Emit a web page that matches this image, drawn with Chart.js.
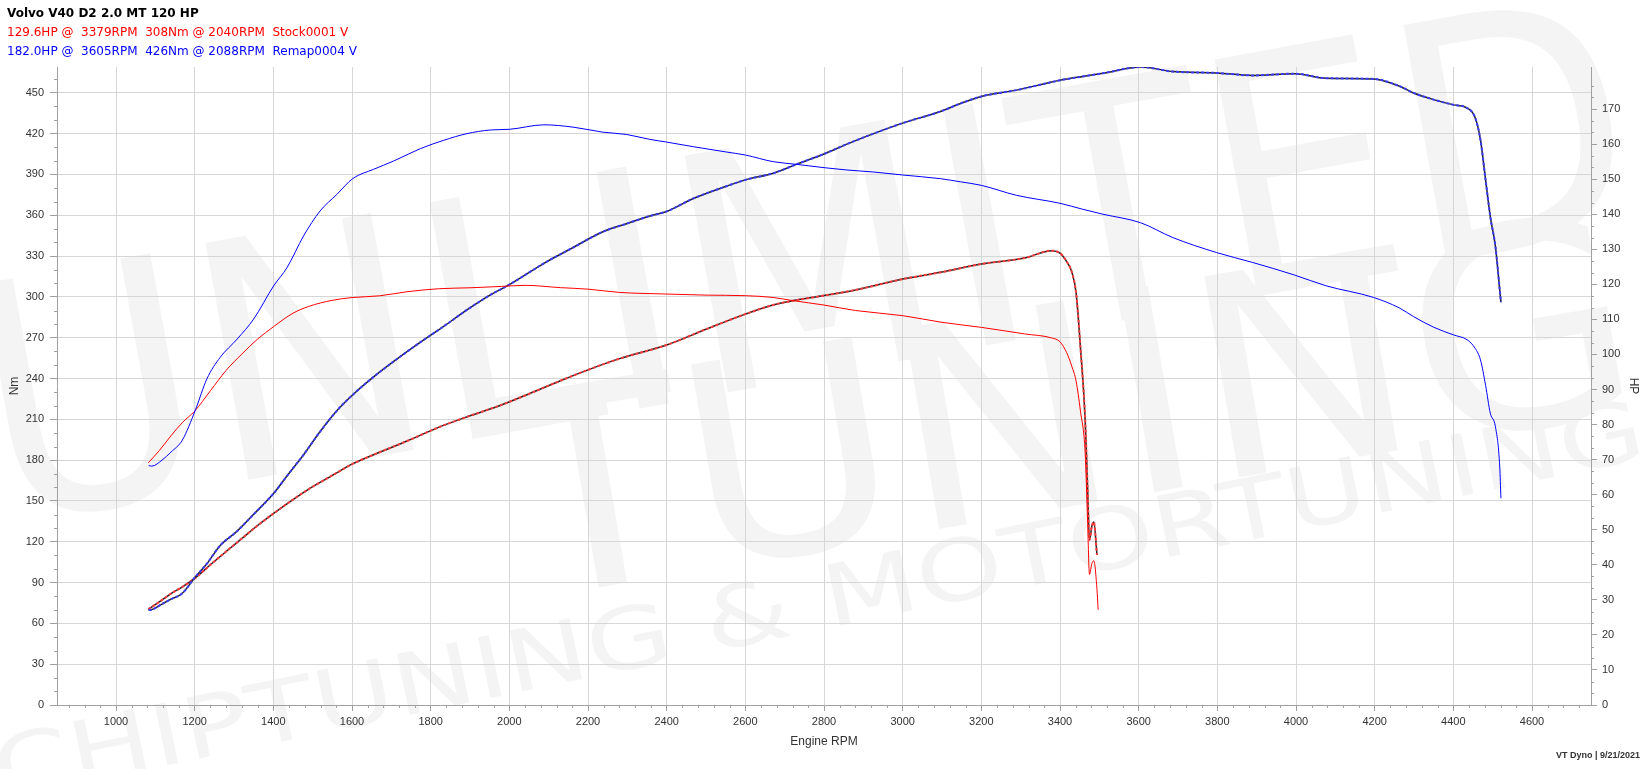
<!DOCTYPE html>
<html>
<head>
<meta charset="utf-8">
<script src="https://cdn.jsdelivr.net/npm/chart.js@4.4.0/dist/chart.umd.min.js"></script>
<style>
body { margin: 0; background: #fff; }
#wrap { position: relative; width: 1648px; height: 769px; }
.hdr { position: absolute; left: 7px; font: 12px "DejaVu Sans"; white-space: pre; line-height: 19px; }
#foot { position: absolute; right: 8px; top: 750px; font: bold 9px "Liberation Sans"; color: #333; }
</style>
</head>
<body>
<div id="wrap">
  <canvas id="dyno" width="1648" height="769"></canvas>
  <div class="hdr" id="t0" style="top:4px;font-weight:bold;color:#000"></div>
  <div class="hdr" id="t1" style="top:23px;color:#ff0000"></div>
  <div class="hdr" id="t2" style="top:42px;color:#0000ff"></div>
  <div id="foot"></div>
</div>
<script>
const titleText = 'Volvo V40 D2 2.0 MT 120 HP';
const stockText = '129.6HP @  3379RPM  308Nm @ 2040RPM  Stock0001 V';
const remapText = '182.0HP @  3605RPM  426Nm @ 2088RPM  Remap0004 V';
const footText = 'VT Dyno | 9/21/2021';

// stock run
const stockRpm = [1082,1110,1140,1170,1200,1240,1280,1320,1360,1400,1450,1490,1550,1600,1670,1740,1820,1900,1980,2040,2130,2200,2280,2400,2500,2600,2670,2720,2800,2880,3000,3100,3200,3310,3379,3400,3417,3430,3441,3452,3464,3470,3475,3481,3486,3494,3497];
const stockNm = [178,187,198,208,216,231,246,258,269,278,288,293,297.5,299.5,300.8,303.8,306,306.7,307.7,308.5,306.8,305.7,303.3,302.1,301.3,300.9,299.6,297.3,294,290,286.2,281.3,277.6,272.8,269.8,267,259,249,238,216,185,136,96,104,106,85,70];
const stockHp = [27.3,29.4,31.8,33.8,36.1,40,43.8,47.5,51.2,54.6,58.6,61.6,65.5,68.7,72.1,75.3,79.2,82.5,85.6,88.3,92.5,95.6,98.8,102.7,107.2,111.5,114.1,115.3,116.8,118.4,121.5,123.5,125.8,127.5,129.6,128.9,126.5,123.5,117.5,102,81.3,62.3,47.1,51,52.2,42.8,null];

// remap run
const remapRpm = [1083,1091,1117,1140,1168,1202,1231,1265,1308,1350,1401,1435,1477,1519,1562,1602,1655,1706,1774,1833,1892,1952,2000,2088,2162,2238,2298,2357,2400,2468,2552,2600,2671,2731,2800,2858,2926,3000,3096,3147,3200,3289,3400,3458,3509,3605,3687,3798,3890,3997,4076,4197,4262,4299,4350,4401,4435,4456,4469,4482,4494,4507,4518,4521];
const remapNm = [176,175.6,180,186,194.4,217,239.7,255.6,269,283.7,308.2,321.6,344.9,363.2,375.5,387,393.8,399.9,409,415.1,420,422.7,423.2,426.5,424.8,421.1,419.4,415.8,413.8,410.4,406.5,404.3,399.4,397.4,395,393.3,391.8,389.6,386.9,384.6,382,374.7,368.8,364.4,360.8,354.5,343.6,332.6,325.3,316,308.2,299.6,292,285.5,277.7,272,268.5,262,253.7,235,214.5,204.6,175,152];
const remapHp = [27.1,27.2,28.8,30.2,31.8,36.6,40.3,45.5,49.6,54.4,60.4,65.4,71.4,78,84,88.5,93.6,98,103.5,108,112.7,117,119.9,126,130.5,135,137.3,139.5,140.8,144.5,148,149.8,151.7,154.3,157.2,160,163,166,169.3,171.6,173.6,175.4,178.2,179.3,180.2,182,180.7,180.3,179.6,180.1,178.8,178.6,176.6,174.6,172.7,171.2,170.3,167.4,161.2,149.8,139.3,130.8,118.4,114.9];

// axis ranges
const rpmMin = 850, rpmMax = 4750;
const nmMax = 469, hpMax = 182;

document.getElementById('t0').textContent = titleText;
document.getElementById('t1').textContent = stockText;
document.getElementById('t2').textContent = remapText;
document.getElementById('foot').textContent = footText;

const pts = (xs, ys) => xs.map((x, i) => ({ x: x, y: ys[i] }));

const gridCol = '#d6d6d6';
const axisCol = '#a0a0a0';

// faint watermark behind everything
const watermark = {
    id: 'watermark',
    beforeDraw(chart) {
        const ctx = chart.ctx;
        const rows = [
            { t: 'UNLIMITED', x: 0, y: 525, len: 1675, size: 330, a: -0.18 },
            { t: 'TUNING', x: 525, y: 600, len: 1140, size: 280, a: -0.17 },
            { t: 'CHIPTUNING & MOTORTUNING', x: 0, y: 800, len: 1684, size: 85, a: -0.205 }
        ];
        ctx.save();
        ctx.fillStyle = '#f4f4f4';
        rows.forEach(r => {
            ctx.save();
            ctx.translate(r.x, r.y);
            ctx.rotate(r.a);
            ctx.font = r.size + 'px "DejaVu Sans"';
            const w = ctx.measureText(r.t).width;
            ctx.scale(r.len / w, 1);
            ctx.fillText(r.t, 0, 0);
            ctx.restore();
        });
        ctx.restore();
    }
};

// short minor ticks between the labelled ones
const minorTicks = {
    id: 'minorTicks',
    afterDraw(chart) {
        const { ctx, scales } = chart;
        const { x, y, y1 } = scales;
        ctx.save();
        ctx.strokeStyle = axisCol;
        ctx.lineWidth = 1;
        ctx.beginPath();
        for (let v = 880; v < rpmMax; v += 40) {
            if (v % 200 === 0) continue;
            const px = Math.round(x.getPixelForValue(v)) + 0.5;
            ctx.moveTo(px, x.top);
            ctx.lineTo(px, x.top + 3);
        }
        for (let v = 10; v < nmMax; v += 10) {
            if (v % 30 === 0) continue;
            const py = Math.round(y.getPixelForValue(v)) + 0.5;
            ctx.moveTo(y.right - 3, py);
            ctx.lineTo(y.right, py);
        }
        for (let k = 1; k * 10 / 3 < hpMax; k++) {
            if (k % 3 === 0) continue;
            const py = Math.round(y1.getPixelForValue(k * 10 / 3)) + 0.5;
            ctx.moveTo(y1.left, py);
            ctx.lineTo(y1.left + 3, py);
        }
        ctx.stroke();
        ctx.restore();
    }
};

const lineBase = { pointRadius: 0, fill: false, cubicInterpolationMode: 'monotone', spanGaps: false };

const ctx = document.getElementById('dyno').getContext('2d');
const myChart = new Chart(ctx, {
    type: 'line',
    data: {
        datasets: [
            { ...lineBase, label: 'Remap Nm', data: pts(remapRpm, remapNm), yAxisID: 'y', borderColor: '#0000ff', borderWidth: 1, order: 1 },
            { ...lineBase, label: 'Stock Nm', data: pts(stockRpm, stockNm), yAxisID: 'y', borderColor: '#ff0000', borderWidth: 1, order: 2 },
            { ...lineBase, label: 'Remap HP', data: pts(remapRpm, remapHp), yAxisID: 'y1', borderColor: '#3c3cff', borderWidth: 2, borderDash: [3, 2], order: 3 },
            { ...lineBase, label: 'Remap HP base', data: pts(remapRpm, remapHp), yAxisID: 'y1', borderColor: '#222222', borderWidth: 1.5, order: 4 },
            { ...lineBase, label: 'Stock HP', data: pts(stockRpm, stockHp), yAxisID: 'y1', borderColor: '#ff3c3c', borderWidth: 2, borderDash: [3, 2], order: 5 },
            { ...lineBase, label: 'Stock HP base', data: pts(stockRpm, stockHp), yAxisID: 'y1', borderColor: '#222222', borderWidth: 1.5, order: 6 }
        ]
    },
    options: {
        responsive: false,
        animation: false,
        devicePixelRatio: 1,
        layout: { padding: { top: 67, left: 0, right: 0, bottom: 0 } },
        plugins: {
            legend: { display: false },
            tooltip: { enabled: false }
        },
        scales: {
            x: {
                type: 'linear',
                min: rpmMin,
                max: rpmMax,
                afterFit: s => { s.height = 64; },
                ticks: {
                    stepSize: 200,
                    autoSkip: false,
                    maxRotation: 0,
                    padding: 4,
                    color: '#333',
                    font: { family: 'Liberation Sans', size: 11 },
                    callback: v => (v % 200 === 0 ? v : '')
                },
                grid: {
                    color: c => (c.tick && c.tick.value % 200 === 0 ? gridCol : 'transparent'),
                    tickColor: c => (c.tick && c.tick.value % 200 === 0 ? axisCol : 'transparent'),
                    tickLength: 6
                },
                border: { color: axisCol },
                title: {
                    display: true,
                    text: 'Engine RPM',
                    color: '#333',
                    font: { family: 'Liberation Sans', size: 12 },
                    padding: { top: 0, bottom: 20 }
                }
            },
            y: {
                position: 'left',
                min: 0,
                max: nmMax,
                afterFit: s => { s.width = 57; },
                ticks: {
                    stepSize: 30,
                    padding: 6,
                    color: '#333',
                    font: { family: 'Liberation Sans', size: 11 },
                    callback: v => (v % 30 === 0 ? v : '')
                },
                grid: {
                    color: c => (c.tick && c.tick.value % 30 === 0 && c.tick.value > 0 ? gridCol : 'transparent'),
                    tickColor: c => (c.tick && c.tick.value % 30 === 0 ? axisCol : 'transparent'),
                    tickLength: 7
                },
                border: { color: axisCol },
                title: {
                    display: true,
                    text: 'Nm',
                    color: '#333',
                    font: { family: 'Liberation Sans', size: 12 },
                    padding: { top: 7, bottom: 0 }
                }
            },
            y1: {
                position: 'right',
                min: 0,
                max: hpMax,
                afterFit: s => { s.width = 57; },
                ticks: {
                    stepSize: 10,
                    padding: 5,
                    color: '#333',
                    font: { family: 'Liberation Sans', size: 11 },
                    callback: v => (v % 10 === 0 ? v : '')
                },
                grid: {
                    drawOnChartArea: false,
                    tickColor: c => (c.tick && c.tick.value % 10 === 0 ? axisCol : 'transparent'),
                    tickLength: 6
                },
                border: { color: axisCol },
                title: {
                    display: true,
                    text: 'HP',
                    color: '#333',
                    font: { family: 'Liberation Sans', size: 12 },
                    padding: { top: 7, bottom: 0 }
                }
            }
        }
    },
    plugins: [watermark, minorTicks]
});
</script>
</body>
</html>
